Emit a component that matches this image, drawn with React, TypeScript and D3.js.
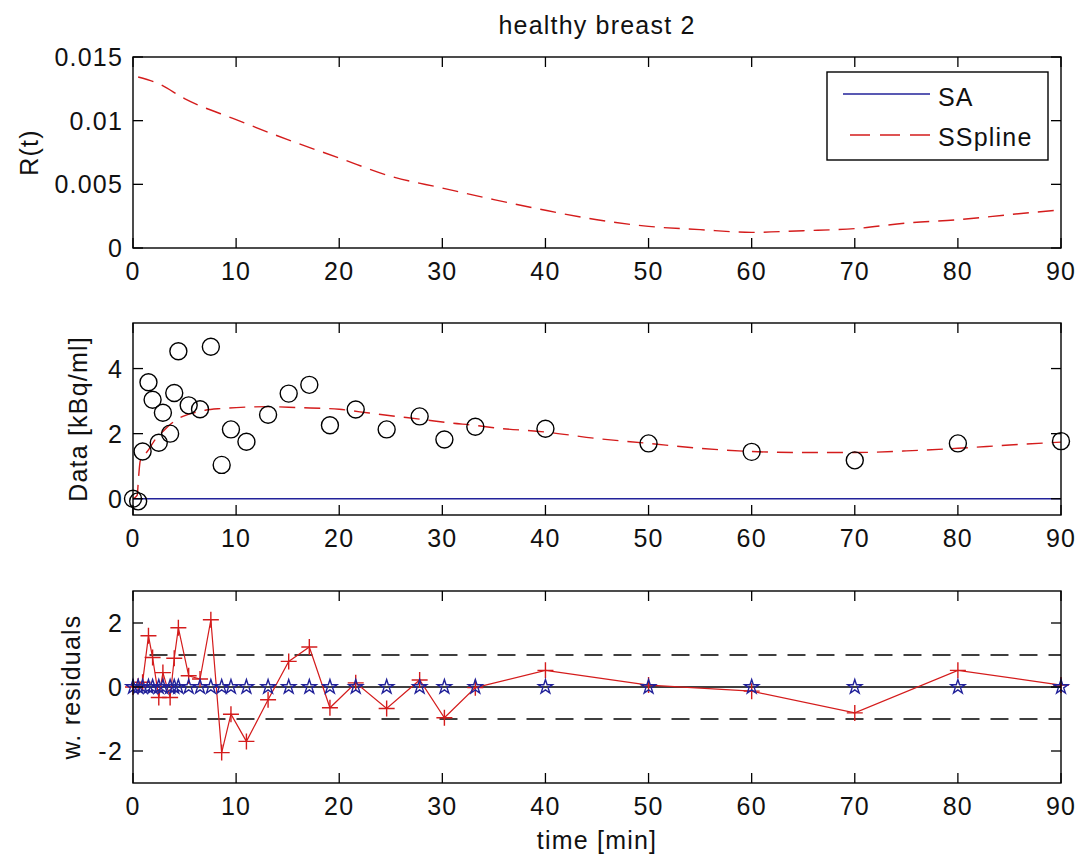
import React from "react";
import * as d3 from "d3";

const xTicks = [0, 10, 20, 30, 40, 50, 60, 70, 80, 90];
const rTicks = [0, 0.005, 0.01, 0.015];
const rTickLabels = ["0", "0.005", "0.01", "0.015"];
const dTicks = [0, 2, 4];
const wTicks = [-2, 0, 2];

// R(t) SSpline curve
const rT = [0.5, 2.5, 5, 10, 15, 20, 25, 30, 35, 40, 45, 50, 55, 60, 65, 70, 75, 80, 85, 90];
const rV = [0.01343, 0.0129, 0.01173, 0.01008, 0.00851, 0.00707, 0.00563, 0.00471, 0.0038, 0.00296, 0.00222, 0.0017, 0.00144, 0.00123, 0.00136, 0.00152, 0.00196, 0.00222, 0.00262, 0.003];

// measured data
const dataT = [0, 0.5, 0.93, 1.5, 1.9, 2.5, 2.9, 3.6, 4.0, 4.4, 5.4, 6.5, 7.55, 8.6, 9.5, 11.0, 13.1, 15.1, 17.1, 19.1, 21.6, 24.6, 27.8, 30.2, 33.2, 40, 50, 60, 70, 80, 90];
const dataV = [0, -0.08, 1.45, 3.58, 3.04, 1.72, 2.64, 2.0, 3.25, 4.53, 2.87, 2.75, 4.67, 1.04, 2.13, 1.75, 2.58, 3.23, 3.5, 2.26, 2.74, 2.13, 2.53, 1.82, 2.21, 2.15, 1.7, 1.44, 1.18, 1.7, 1.77];

// SSpline fit
const fitT = [0, 0.4, 0.55, 0.7, 1.0, 1.5, 2.0, 2.5, 3.0, 3.5, 4.5, 6, 7, 8.5, 10, 13, 16, 20, 22, 25, 28, 31, 33, 35, 40, 45, 50, 55, 60, 65, 70, 75, 80, 85, 90];
const fitV = [0, 0.1, 0.7, 1.16, 1.3, 1.5, 1.75, 1.95, 2.1, 2.25, 2.48, 2.65, 2.72, 2.77, 2.8, 2.83, 2.8, 2.75, 2.67, 2.55, 2.44, 2.32, 2.26, 2.18, 2.05, 1.85, 1.7, 1.55, 1.45, 1.42, 1.42, 1.47, 1.55, 1.65, 1.74];

// weighted residuals
const residSS = [0, 0.02, 0.15, 1.6, 0.92, -0.33, 0.45, -0.33, 0.9, 1.85, 0.35, 0.25, 2.1, -2.05, -0.85, -1.7, -0.4, 0.8, 1.25, -0.65, 0.13, -0.67, 0.22, -0.96, -0.02, 0.52, 0.06, -0.13, -0.81, 0.52, 0.06];
const residSA = dataT.map(() => 0);
const bandStart = 1.6;
const bandLevels = [-1, 1];

const FONT = "'Liberation Sans', Arial, sans-serif";
const FS = 25;
const LS = 1.2;
const RED = "#d41c1c";
const BLUE = "#22229a";

const L = 133, R = 1061;
const x = d3.scaleLinear().domain([0, 90]).range([L, R]);
const yR = d3.scaleLinear().domain([0, 0.015]).range([248, 57]);
const yD = d3.scaleLinear().domain([-0.5, 5.4]).range([515, 323]);
const yW = d3.scaleLinear().domain([-3, 3]).range([783, 591]);

function Frame({ y, yTicks, yLabels, yLabel, yLabelX }: any) {
  const [b, t] = y.range();
  const tl = 10;
  return (
    <g>
      <rect x={L} y={t} width={R - L} height={b - t} fill="none" stroke="#000" strokeWidth={1.4} />
      {xTicks.map((v) => (
        <g key={"x" + v}>
          <line x1={x(v)} x2={x(v)} y1={b} y2={b - tl} stroke="#000" strokeWidth={1.3} />
          <line x1={x(v)} x2={x(v)} y1={t} y2={t + tl} stroke="#000" strokeWidth={1.3} />
          <text x={x(v)} y={b + 32} textAnchor="middle" fontFamily={FONT} fontSize={FS} letterSpacing={LS} fill="#111">{v}</text>
        </g>
      ))}
      {yTicks.map((v: number, i: number) => (
        <g key={"y" + v}>
          <line x1={L} x2={L + tl} y1={y(v)} y2={y(v)} stroke="#000" strokeWidth={1.3} />
          <line x1={R} x2={R - tl} y1={y(v)} y2={y(v)} stroke="#000" strokeWidth={1.3} />
          <text x={L - 10} y={y(v) + 9} textAnchor="end" fontFamily={FONT} fontSize={FS} letterSpacing={LS} fill="#111">{yLabels[i]}</text>
        </g>
      ))}
      <text transform={`translate(${yLabelX},${(b + t) / 2}) rotate(-90)`} textAnchor="middle" fontFamily={FONT} fontSize={FS} letterSpacing={LS} fill="#111">{yLabel}</text>
    </g>
  );
}

export default function App() {
  const lineR = d3.line<number>().x((_, i) => x(rT[i])).y((d) => yR(d)).curve(d3.curveMonotoneX);
  const lineFit = d3.line<number>().x((_, i) => x(fitT[i])).y((d) => yD(d)).curve(d3.curveMonotoneX);
  const lineRes = d3.line<number>().x((_, i) => x(dataT[i])).y((d) => yW(d));
  const star = d3.symbol().type(d3.symbolStar).size(62)();

  return (
    <svg width={1078} height={859} style={{ position: "absolute", left: 0, top: 0, background: "#fff" }}>
      <rect width={1078} height={859} fill="#fff" />
      <text x={597} y={34} textAnchor="middle" fontFamily={FONT} fontSize={FS} letterSpacing={LS} fill="#111">healthy breast 2</text>

      {/* top panel */}
      <path d={lineR(rV) || ""} fill="none" stroke={RED} strokeWidth={1.4} strokeDasharray="16 9" />
      <Frame y={yR} yTicks={rTicks} yLabels={rTickLabels} yLabel="R(t)" yLabelX={38} />
      <g>
        <rect x={827} y={72} width={221} height={88} fill="#fff" stroke="#000" strokeWidth={1.4} />
        <line x1={843} x2={930} y1={94} y2={94} stroke={BLUE} strokeWidth={1.4} />
        <text x={938} y={106} fontFamily={FONT} fontSize={FS} letterSpacing={LS} fill="#111">SA</text>
        <line x1={850} x2={930} y1={135} y2={135} stroke={RED} strokeWidth={1.4} strokeDasharray="20 10" />
        <text x={938} y={146} fontFamily={FONT} fontSize={FS} letterSpacing={LS} fill="#111">SSpline</text>
      </g>

      {/* middle panel */}
      <line x1={x(0)} x2={x(90)} y1={yD(0)} y2={yD(0)} stroke={BLUE} strokeWidth={1.4} />
      <path d={lineFit(fitV) || ""} fill="none" stroke={RED} strokeWidth={1.4} strokeDasharray="16 9" />
      {dataV.map((v, i) => (
        <circle key={i} cx={x(dataT[i])} cy={yD(v)} r={8.5} fill="none" stroke="#000" strokeWidth={1.4} />
      ))}
      <Frame y={yD} yTicks={dTicks} yLabels={dTicks.map(String)} yLabel="Data [kBq/ml]" yLabelX={87} />

      {/* bottom panel */}
      {bandLevels.map((b) => (
        <line key={b} x1={x(bandStart)} x2={x(90)} y1={yW(b)} y2={yW(b)} stroke="#000" strokeWidth={1.4} strokeDasharray="18 11" />
      ))}
      <line x1={x(0)} x2={x(90)} y1={yW(0)} y2={yW(0)} stroke="#000" strokeWidth={1.4} />
      <path d={lineRes(residSS) || ""} fill="none" stroke={RED} strokeWidth={1.2} />
      {residSS.map((v, i) => (
        <path key={"p" + i} transform={`translate(${x(dataT[i])},${yW(v)})`} d="M-8,0H8M0,-8V8" stroke={RED} strokeWidth={1.4} />
      ))}
      {residSA.map((v, i) => (
        <path key={"s" + i} transform={`translate(${x(dataT[i])},${yW(v)})`} d={star || ""} fill="none" stroke={BLUE} strokeWidth={1.4} />
      ))}
      <Frame y={yW} yTicks={wTicks} yLabels={wTicks.map(String)} yLabel="w. residuals" yLabelX={80} />
      <text x={597} y={849} textAnchor="middle" fontFamily={FONT} fontSize={FS} letterSpacing={LS} fill="#111">time [min]</text>
    </svg>
  );
}
